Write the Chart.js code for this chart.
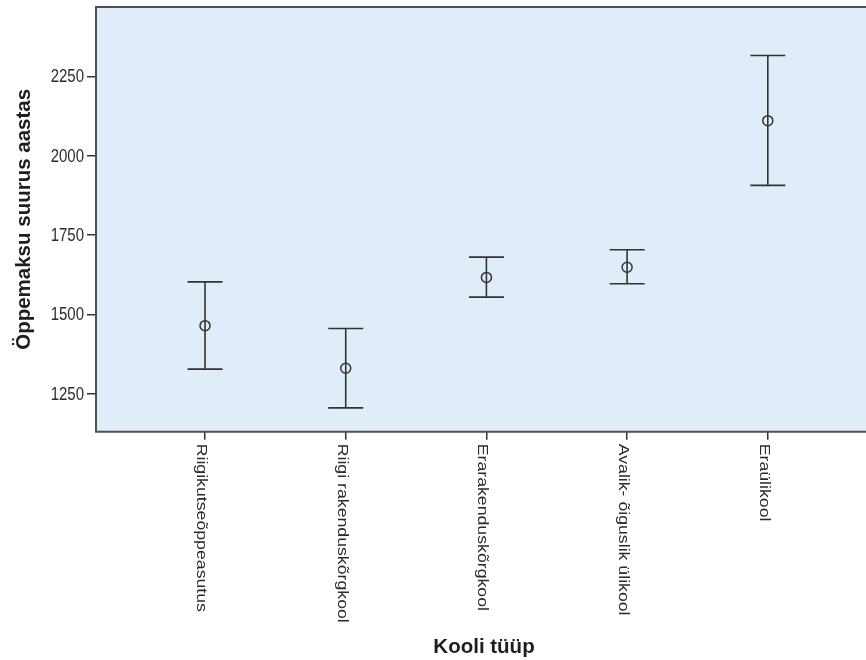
<!DOCTYPE html>
<html>
<head>
<meta charset="utf-8">
<script src="https://cdn.jsdelivr.net/npm/chart.js@4"></script>
<style>
html,body{margin:0;padding:0;background:#fff;}
#wrap{width:866px;height:660px;}
</style>
</head>
<body>
<div id="wrap"><canvas id="c" width="866" height="660"></canvas></div>
<script>
const categories = ['Riigikutseõppeasutus','Riigi rakenduskõrgkool','Erarakenduskõrgkool','Avalik- õiguslik ülikool','Eraülikool'];
const means = [1465, 1331, 1617, 1649, 2111];
const lowerCI = [1328, 1206, 1555, 1597, 1907];
const upperCI = [1603, 1456, 1681, 1704, 2316];
const yTicks = [1250, 1500, 1750, 2000, 2250];
const xTitle = 'Kooli tüüp';
const yTitle = 'Öppemaksu suurus aastas';

const FONT = '"Liberation Sans", Arial, sans-serif';
const INK = '#2b2b2b';

const framePlugin = {
  id: 'frame',
  beforeDraw(chart) {
    const {ctx, chartArea: a} = chart;
    ctx.save();
    ctx.fillStyle = '#e0edf9';
    ctx.fillRect(a.left, a.top, chart.width - a.left, a.bottom - a.top);
    ctx.restore();
  },
  beforeDatasetsDraw(chart) {
    const {ctx, scales} = chart;
    const xs = scales.x, ys = scales.y;
    ctx.save();
    ctx.strokeStyle = '#333';
    ctx.lineWidth = 1.6;
    const cap = 17.5;
    categories.forEach((c, i) => {
      const x = xs.getPixelForValue(i);
      const yl = ys.getPixelForValue(lowerCI[i]);
      const yu = ys.getPixelForValue(upperCI[i]);
      ctx.beginPath();
      ctx.moveTo(x, yl); ctx.lineTo(x, yu);
      ctx.moveTo(x - cap, yu); ctx.lineTo(x + cap, yu);
      ctx.moveTo(x - cap, yl); ctx.lineTo(x + cap, yl);
      ctx.stroke();
    });
    ctx.restore();
  },
  afterDraw(chart) {
    const {ctx, chartArea: a, scales} = chart;
    const xs = scales.x, ys = scales.y;
    ctx.save();
    // frame (top, left, bottom)
    ctx.strokeStyle = '#505050';
    ctx.lineWidth = 2;
    ctx.beginPath();
    ctx.moveTo(chart.width, a.top); ctx.lineTo(a.left, a.top);
    ctx.lineTo(a.left, a.bottom); ctx.lineTo(chart.width, a.bottom);
    ctx.stroke();

    // y tick labels
    ctx.fillStyle = INK;
    ctx.font = '15px ' + FONT;
    ctx.textAlign = 'right';
    ctx.textBaseline = 'middle';
    yTicks.forEach(v => {
      const y = ys.getPixelForValue(v);
      ctx.save();
      ctx.translate(a.left - 12, y + 1);
      ctx.scale(1, 1.18);
      ctx.fillText(String(v), 0, 0);
      ctx.restore();
    });

    // x tick labels, rotated reading top-to-bottom
    ctx.textAlign = 'left';
    ctx.textBaseline = 'alphabetic';
    categories.forEach((c, i) => {
      const x = xs.getPixelForValue(i);
      ctx.save();
      ctx.translate(x - 8, a.bottom + 12);
      ctx.rotate(Math.PI / 2);
      ctx.scale(1.18, 1);
      ctx.fillText(c, 0, 0);
      ctx.restore();
    });

    // axis titles
    ctx.fillStyle = '#1e1e1e';
    ctx.font = 'bold 20.5px ' + FONT;
    ctx.textAlign = 'center';
    ctx.textBaseline = 'middle';
    ctx.fillText(xTitle, (a.left + chart.width) / 2 + 3, 647);
    ctx.save();
    ctx.translate(24, (a.top + a.bottom) / 2);
    ctx.rotate(-Math.PI / 2);
    ctx.fillText(yTitle, 0, 0);
    ctx.restore();
    ctx.restore();
  }
};

new Chart(document.getElementById('c'), {
  type: 'scatter',
  data: {
    datasets: [{
      data: categories.map((c, i) => ({x: i, y: means[i]})),
      pointStyle: 'circle',
      pointRadius: 5,
      pointHoverRadius: 5,
      pointBorderWidth: 1.5,
      borderColor: '#333',
      backgroundColor: 'rgba(0,0,0,0)',
      showLine: false
    }]
  },
  options: {
    responsive: false,
    animation: false,
    events: [],
    layout: {autoPadding: false, padding: {top: 7, right: 0, left: 0, bottom: 0}},
    plugins: {legend: {display: false}, tooltip: {enabled: false}, title: {display: false}},
    scales: {
      x: {
        type: 'linear',
        min: -0.775,
        max: 4.698,
        afterBuildTicks: axis => { axis.ticks = categories.map((c, i) => ({value: i})); },
        afterFit: axis => { axis.height = 228.3; },
        ticks: {display: false},
        grid: {display: true, drawOnChartArea: false, drawTicks: true, tickLength: 8, color: '#333', lineWidth: 1.5},
        border: {display: false}
      },
      y: {
        type: 'linear',
        min: 1131,
        max: 2469,
        afterBuildTicks: axis => { axis.ticks = yTicks.map(v => ({value: v})); },
        afterFit: axis => { axis.width = 96; },
        ticks: {display: false},
        grid: {display: true, drawOnChartArea: false, drawTicks: true, tickLength: 9, color: '#333', lineWidth: 1.5},
        border: {display: false}
      }
    }
  },
  plugins: [framePlugin]
});
</script>
</body>
</html>
